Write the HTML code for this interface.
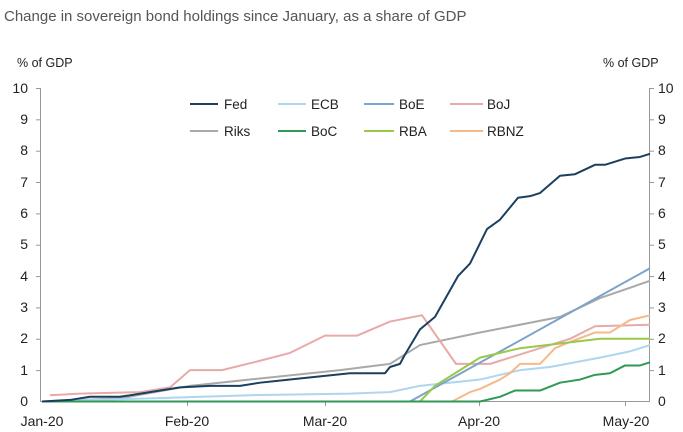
<!DOCTYPE html>
<html><head><meta charset="utf-8"><style>
html,body{margin:0;padding:0;background:#fff;}
svg{display:block;font-family:"Liberation Sans",Arial,sans-serif;}
</style></head><body>
<svg width="683" height="432" viewBox="0 0 683 432" xmlns="http://www.w3.org/2000/svg">
<text x="4" y="21" font-size="15" fill="#555">Change in sovereign bond holdings since January, as a share of GDP</text>
<text x="17" y="67" font-size="12.5" fill="#222">% of GDP</text>
<text x="603" y="67" font-size="12.5" fill="#222">% of GDP</text>
<g stroke="#999" stroke-width="1">
<line x1="40.5" y1="88" x2="40.5" y2="402"/>
<line x1="649.5" y1="88" x2="649.5" y2="402"/>
<line x1="40" y1="401.5" x2="650" y2="401.5"/>
</g>
<g font-size="14" fill="#222">
<text x="28" y="406" text-anchor="end">0</text><text x="28" y="375" text-anchor="end">1</text><text x="28" y="343" text-anchor="end">2</text><text x="28" y="312" text-anchor="end">3</text><text x="28" y="281" text-anchor="end">4</text><text x="28" y="249" text-anchor="end">5</text><text x="28" y="218" text-anchor="end">6</text><text x="28" y="187" text-anchor="end">7</text><text x="28" y="155" text-anchor="end">8</text><text x="28" y="124" text-anchor="end">9</text><text x="28" y="93" text-anchor="end">10</text>
<text x="658" y="406">0</text><text x="658" y="375">1</text><text x="658" y="343">2</text><text x="658" y="312">3</text><text x="658" y="281">4</text><text x="658" y="249">5</text><text x="658" y="218">6</text><text x="658" y="187">7</text><text x="658" y="155">8</text><text x="658" y="124">9</text><text x="658" y="93">10</text>
<text x="42" y="426" text-anchor="middle">Jan-20</text><text x="187" y="426" text-anchor="middle">Feb-20</text><text x="325" y="426" text-anchor="middle">Mar-20</text><text x="479" y="426" text-anchor="middle">Apr-20</text><text x="626" y="426" text-anchor="middle">May-20</text>
</g>
<g stroke="#999" stroke-width="1">
<line x1="36" y1="88.5" x2="40" y2="88.5"/><line x1="36" y1="119.8" x2="40" y2="119.8"/><line x1="36" y1="151.2" x2="40" y2="151.2"/><line x1="36" y1="182.5" x2="40" y2="182.5"/><line x1="36" y1="213.9" x2="40" y2="213.9"/><line x1="36" y1="245.2" x2="40" y2="245.2"/><line x1="36" y1="276.6" x2="40" y2="276.6"/><line x1="36" y1="307.9" x2="40" y2="307.9"/><line x1="36" y1="339.3" x2="40" y2="339.3"/><line x1="36" y1="370.6" x2="40" y2="370.6"/>
<line x1="650" y1="88.5" x2="654" y2="88.5"/><line x1="650" y1="119.8" x2="654" y2="119.8"/><line x1="650" y1="151.2" x2="654" y2="151.2"/><line x1="650" y1="182.5" x2="654" y2="182.5"/><line x1="650" y1="213.9" x2="654" y2="213.9"/><line x1="650" y1="245.2" x2="654" y2="245.2"/><line x1="650" y1="276.6" x2="654" y2="276.6"/><line x1="650" y1="307.9" x2="654" y2="307.9"/><line x1="650" y1="339.3" x2="654" y2="339.3"/><line x1="650" y1="370.6" x2="654" y2="370.6"/>
<line x1="187.5" y1="402" x2="187.5" y2="406"/><line x1="325.5" y1="402" x2="325.5" y2="406"/><line x1="479.5" y1="402" x2="479.5" y2="406"/><line x1="625.5" y1="402" x2="625.5" y2="406"/>
</g>
<g transform="translate(0,401.5) scale(1,-31.35)" fill="none" stroke-width="2" stroke-linejoin="round">
<polyline vector-effect="non-scaling-stroke" stroke="#a9a9a9" points="42,0 120,0.1 190,0.5 250,0.7 340,1.0 390,1.2 420,1.8 480,2.2 560,2.7 600,3.3 650,3.85"/>
<polyline vector-effect="non-scaling-stroke" stroke="#e8aaa8" points="50,0.2 80,0.25 140,0.3 170,0.45 190,1.0 222,1.0 260,1.3 290,1.55 325,2.1 357,2.1 390,2.55 422,2.75 456,1.2 490,1.2 540,1.7 570,2.0 595,2.4 650,2.45"/>
<polyline vector-effect="non-scaling-stroke" stroke="#aed6ee" points="42,0 150,0.1 250,0.2 350,0.25 390,0.3 420,0.5 480,0.7 520,1.0 550,1.1 600,1.4 630,1.6 650,1.8"/>
<polyline vector-effect="non-scaling-stroke" stroke="#7ca3cc" points="410,0 650,4.25"/>
<polyline vector-effect="non-scaling-stroke" stroke="#f5b98a" points="452,0 470,0.3 480,0.4 500,0.7 510,0.9 520,1.2 540,1.2 555,1.7 570,1.9 595,2.2 610,2.2 630,2.6 650,2.75"/>
<polyline vector-effect="non-scaling-stroke" stroke="#9ac94a" points="42,0 420,0 435,0.5 460,1.0 480,1.4 520,1.7 560,1.85 600,2.0 650,2.0"/>
<polyline vector-effect="non-scaling-stroke" stroke="#2e9a55" points="42,0 480,0 500,0.15 515,0.35 540,0.35 560,0.6 580,0.7 595,0.85 610,0.9 625,1.15 640,1.15 650,1.25"/>
<polyline vector-effect="non-scaling-stroke" stroke="#1c3f5e" points="42,0 70,0.05 90,0.15 120,0.15 150,0.3 180,0.45 210,0.5 240,0.5 260,0.6 290,0.7 320,0.8 350,0.9 385,0.9 390,1.1 400,1.2 405,1.5 420,2.3 435,2.7 458,4.0 470,4.4 487,5.5 500,5.8 518,6.5 530,6.55 540,6.65 560,7.2 575,7.25 595,7.55 605,7.55 625,7.75 640,7.8 650,7.9"/>
</g>
<g stroke-width="2">
<line x1="190" y1="104" x2="218" y2="104" stroke="#1c3f5e"/>
<line x1="278" y1="104" x2="306" y2="104" stroke="#aed6ee"/>
<line x1="364" y1="104" x2="394" y2="104" stroke="#7ca3cc"/>
<line x1="450" y1="104" x2="483" y2="104" stroke="#e8aaa8"/>
<line x1="190" y1="131" x2="218" y2="131" stroke="#a9a9a9"/>
<line x1="278" y1="131" x2="306" y2="131" stroke="#2e9a55"/>
<line x1="364" y1="131" x2="394" y2="131" stroke="#9ac94a"/>
<line x1="450" y1="131" x2="483" y2="131" stroke="#f5b98a"/>
</g>
<g font-size="13.5" fill="#222">
<text x="224" y="109">Fed</text><text x="311" y="109">ECB</text><text x="399" y="109">BoE</text><text x="487" y="109">BoJ</text>
<text x="224" y="136">Riks</text><text x="311" y="136">BoC</text><text x="399" y="136">RBA</text><text x="487" y="136">RBNZ</text>
</g>
</svg>
</body></html>
